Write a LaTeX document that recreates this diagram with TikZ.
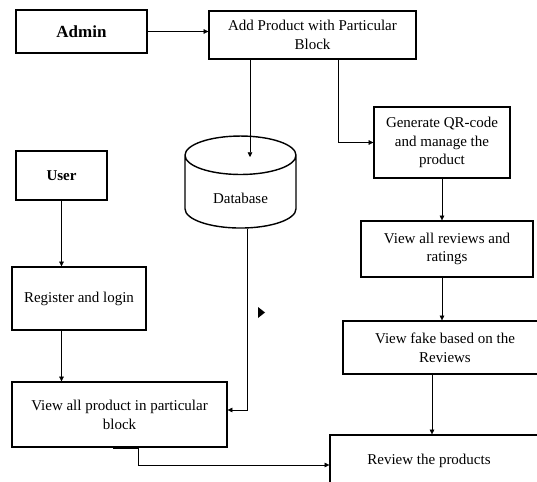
\documentclass[tikz,border=0pt]{standalone}
\usepackage{fontspec}
\setmainfont{Liberation Serif}
\usetikzlibrary{shapes.geometric,arrows.meta,calc}

\begin{document}
\begin{tikzpicture}[x=0.03cm, y=-0.03cm,
    every node/.style={font=\fontsize{12.8}{16}\selectfont, align=center},
    box/.style={draw, line width=1.2pt, inner sep=0pt},
    arr/.style={-{Triangle[length=4pt,width=4pt]}, line width=0.5pt}]
  \useasboundingbox (0,0) rectangle (537,482);
  \clip (0,0) rectangle (537,482);

  % admin side
  \node[box, minimum width=3.93cm, minimum height=1.29cm, font=\fontsize{14.5}{16}\selectfont\bfseries] (admin) at (81.5,31.5) {Admin};
  \node[box, minimum width=6.21cm, minimum height=1.44cm] (add) at (312.5,35) {Add Product with Particular\\Block};
  \node[box, minimum width=4.08cm, minimum height=2.13cm] (qr) at (442,142.5) {Generate QR-code\\and manage the\\product};
  \node[box, minimum width=5.16cm, minimum height=1.68cm] (reviews) at (447,249) {View all reviews and\\ratings};
  \node[box, minimum width=6.12cm, minimum height=1.59cm] (fake) at (445,347.5) {View fake based on the\\Reviews};
  \node[box, minimum width=7.2cm, minimum height=1.8cm] (review) at (450,465) {};
  \node (reviewtxt) at (429,461) {Review the products};

  % database
  \node[box, cylinder, shape border rotate=90, aspect=0.7, minimum width=3.33cm, minimum height=2.76cm] (db) at (240.5,192) {\smash{\raisebox{-0.33cm}{Database}}};
  \coordinate (dbin) at (250,157);

  % user side
  \node[box, minimum width=2.73cm, minimum height=1.47cm, font=\fontsize{12.8}{16}\selectfont\bfseries] (user) at (61.5,175.5) {User};
  \node[box, minimum width=4.02cm, minimum height=1.89cm] (register) at (79,298.5) {Register and login};
  \node[box, minimum width=6.45cm, minimum height=1.95cm] (viewall) at (119.5,414.5) {View all product in particular\\block};

  % connectors
  \draw[arr] (admin.east) -- (admin.east -| add.west);
  \draw[arr] (add.south -| dbin) -- (dbin);
  \draw[arr] ($(add.south west)+(130,0)$) |- (qr.west);
  \draw[arr] (qr.south) -- (qr.south |- reviews.north);
  \draw[arr] (reviews.south -| qr) -- (fake.north -| qr);
  \draw[arr] (fake.south -| 432,0) -- (review.north -| 432,0);
  \draw[arr] ($(db.south)+(6.5,0)$) |- ($(viewall.east)+(0,-4.5)$);
  \draw[arr] (user.south) -- (user.south |- register.north);
  \draw[arr] (register.south -| user) -- (viewall.north -| user);
  \draw[arr] ($(viewall.south west)+(127,0)$) |- (review.west);

  % stray marks
  \fill (258,307) -- (265,312.5) -- (258,318) -- cycle;
  \draw[line width=1.4pt] (113,448) -- (139,448);
\end{tikzpicture}
\end{document}
